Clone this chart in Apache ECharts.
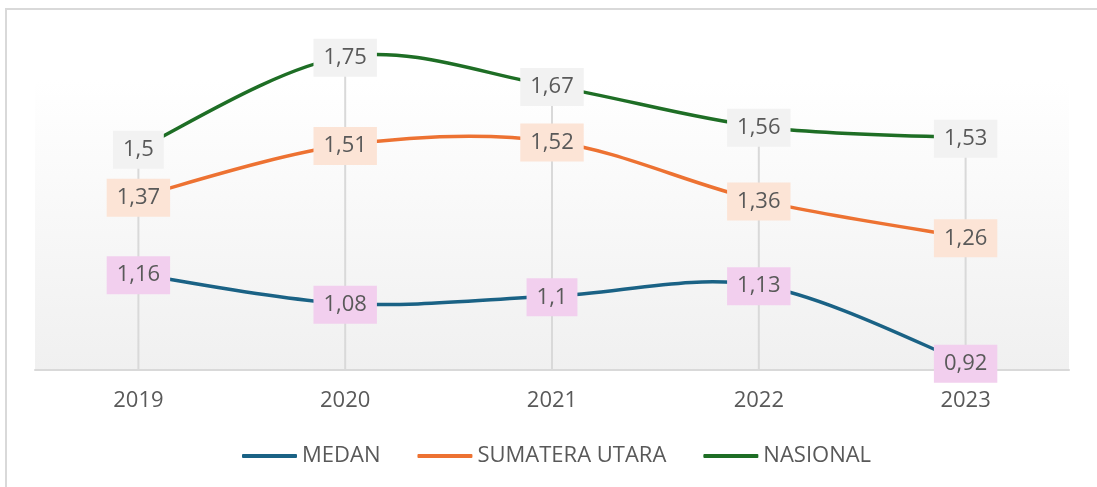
<!DOCTYPE html>
<html>
<head>
<meta charset="utf-8">
<script src="https://cdn.jsdelivr.net/npm/echarts@6/dist/echarts.min.js"></script>
<style>
  html, body { margin: 0; padding: 0; background: #fff; }
  #chart { width: 1097px; height: 487px; }
</style>
</head>
<body>
<div id="chart"></div>
<script>
// data
const years = ['2019', '2020', '2021', '2022', '2023'];
const medan = [1.16, 1.08, 1.1, 1.13, 0.92];
const sumut = [1.37, 1.51, 1.52, 1.36, 1.26];
const nasional = [1.5, 1.75, 1.67, 1.56, 1.53];

const yMin = 0.9;
const yMax = 1.6866;

let chart = echarts.init(document.getElementById('chart'));

let fontFam = '"Open Sans", "Noto Sans", sans-serif';
let textGrey = '#595959';

// excel-like smoothed line (bezier through the points, 1/6 tangents)
let smoothPath = function (pts) {
    let d = 'M' + pts[0][0] + ' ' + pts[0][1];
    for (let k = 0; k < pts.length - 1; k++) {
        let p0 = pts[k - 1] || pts[k];
        let p1 = pts[k];
        let p2 = pts[k + 1];
        let p3 = pts[k + 2] || pts[k + 1];
        let c1x = p1[0] + (p2[0] - p0[0]) / 6, c1y = p1[1] + (p2[1] - p0[1]) / 6;
        let c2x = p2[0] - (p3[0] - p1[0]) / 6, c2y = p2[1] - (p3[1] - p1[1]) / 6;
        d += ' C' + c1x + ' ' + c1y + ' ' + c2x + ' ' + c2y + ' ' + p2[0] + ' ' + p2[1];
    }
    return d;
};

let makeRender = function (vals, color, labelBg, withDrops) {
    return function (params, api) {
        let i = params.dataIndex;
        let pts = vals.map(function (v, k) { return api.coord([k, v]); });
        let children = [];
        if (withDrops) {
            let top = Math.max(medan[i], sumut[i], nasional[i]);
            let a = api.coord([i, top]);
            let b = api.coord([i, yMin]);
            children.push({
                type: 'line',
                z2: 1,
                shape: { x1: a[0], y1: a[1], x2: b[0], y2: b[1] },
                style: { stroke: '#d9d9d9', lineWidth: 2 }
            });
        }
        if (i === 0) {
            children.push({
                type: 'path',
                z2: 10,
                shape: { pathData: smoothPath(pts) },
                style: { stroke: color, lineWidth: 3.5, fill: null, lineCap: 'round', lineJoin: 'round' }
            });
        }
        children.push({
            type: 'text',
            z2: 100,
            x: pts[i][0],
            y: pts[i][1] + 1,
            style: {
                text: String(vals[i]).replace('.', ','),
                fill: textGrey,
                fontSize: 22,
                fontFamily: fontFam,
                backgroundColor: labelBg,
                padding: [8, 10, 8, 10],
                align: 'center',
                verticalAlign: 'middle'
            }
        });
        return { type: 'group', children: children };
    };
};

let seriesDefs = [
    { name: 'MEDAN', vals: medan, color: '#1a6285', bg: '#f2cfee', drops: false },
    { name: 'SUMATERA UTARA', vals: sumut, color: '#ed7232', bg: '#fce4d6', drops: false },
    { name: 'NASIONAL', vals: nasional, color: '#1e6e25', bg: '#f2f2f2', drops: true }
];

let option = {
    animation: false,
    graphic: [{
        type: 'polyline',
        shape: { points: [[6, 487], [6, 9], [1097, 9]] },
        style: { stroke: '#d9d9d9', lineWidth: 2, fill: null },
        silent: true
    }],
    legend: {
        left: 237,
        top: 440,
        itemWidth: 55,
        itemHeight: 4,
        itemGap: 37,
        icon: 'roundRect',
        textStyle: { color: textGrey, fontSize: 22, fontFamily: fontFam },
        data: seriesDefs.map(function (s) {
            return { name: s.name, itemStyle: { color: s.color } };
        })
    },
    grid: {
        left: 35,
        right: 28,
        top: 80,
        height: 290,
        show: true,
        borderWidth: 0,
        backgroundColor: {
            type: 'linear', x: 0, y: 0, x2: 0, y2: 1,
            colorStops: [
                { offset: 0, color: '#ffffff' },
                { offset: 1, color: '#f0f0f0' }
            ]
        }
    },
    xAxis: {
        type: 'category',
        data: years,
        boundaryGap: true,
        axisLine: { lineStyle: { color: '#d9d9d9', width: 2 } },
        axisTick: { show: false },
        axisLabel: { color: textGrey, fontSize: 22, fontFamily: fontFam, margin: 20 },
        splitLine: { show: false }
    },
    yAxis: {
        type: 'value',
        min: yMin,
        max: yMax,
        show: false,
        splitLine: { show: false }
    },
    series: seriesDefs.map(function (s) {
        return {
            name: s.name,
            type: 'custom',
            clip: false,
            itemStyle: { color: s.color },
            data: s.vals.map(function (v, k) { return [k, v]; }),
            encode: { x: 0, y: 1 },
            renderItem: makeRender(s.vals, s.color, s.bg, s.drops)
        };
    })
};

chart.setOption(option);
</script>
</body>
</html>
